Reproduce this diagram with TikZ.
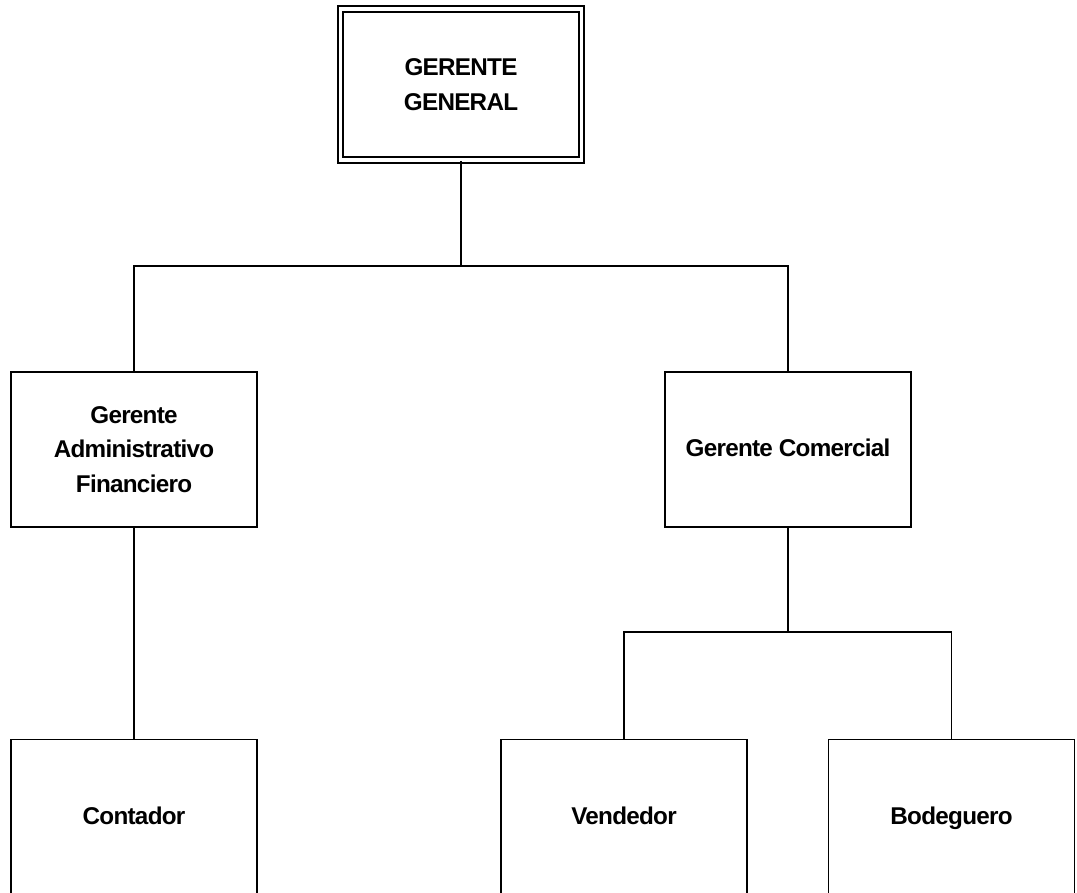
\documentclass[tikz,border=0pt]{standalone}
\usepackage{fontspec}
\setmainfont{Liberation Sans}[LetterSpace=-3]

\begin{document}
\begin{tikzpicture}[
  unitbox/.style={draw, line width=1.1pt, minimum width=4.92cm, minimum height=3.1cm,
    align=center, font=\bfseries\fontsize{13.8}{19.8}\selectfont},
  leafbox/.style={unitbox, text height=2.1ex, text depth=0.5ex},
  genbox/.style={unitbox, double, double distance=0.07cm, minimum width=4.82cm, minimum height=3.02cm},
  link/.style={line width=1.1pt}
]
  \useasboundingbox (0,0) rectangle (21.54,17.84);
  % draw the boxes
  \node[genbox] (general) at (9.22,16.15) {GERENTE\\GENERAL};
  \node[unitbox] (admin) at (2.68,8.85) {Gerente\\Administrativo\\Financiero};
  \node[leafbox] (comercial) at (15.76,8.85) {Gerente Comercial};
  \node[leafbox] (contador) at (2.68,1.50) {Contador};
  \node[leafbox] (vendedor) at (12.48,1.50) {Vendedor};
  \node[leafbox] (bodeguero) at (19.03,1.50) {Bodeguero};
  % draw the connectors
  \coordinate (bus_top) at (9.22,12.52);
  \coordinate (bus_com) at (15.76,5.20);
  \draw[link] (general.south) -- (bus_top) -| (admin.north);
  \draw[link] (bus_top) -| (comercial.north);
  \draw[link] (admin.south) -- (contador.north);
  \draw[link] (comercial.south) -- (bus_com) -| (vendedor.north);
  \draw[link] (bus_com) -| (bodeguero.north);
\end{tikzpicture}
\end{document}
